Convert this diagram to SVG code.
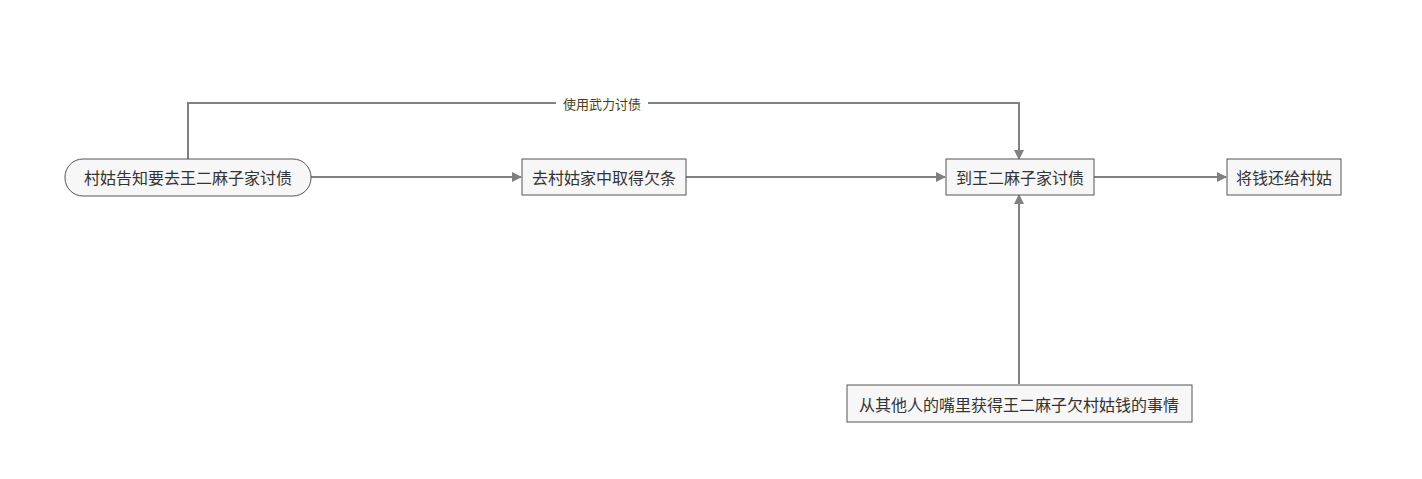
<svg xmlns="http://www.w3.org/2000/svg" width="1422" height="479" viewBox="0 0 1422 479">
<style>
.n{fill:#f7f7f7;stroke:#555;stroke-width:1}
.t{font-family:"Noto Sans CJK SC",sans-serif;font-size:16px;fill:#333;text-anchor:middle;dominant-baseline:central}
.c{fill:none;stroke:#808080;stroke-width:2}
.l{font-family:"Noto Sans CJK SC",sans-serif;font-size:13px;fill:#4a3f1a;text-anchor:middle;dominant-baseline:central}
</style>
<defs><marker id="a" markerWidth="10" markerHeight="10" refX="9" refY="5" orient="auto" markerUnits="userSpaceOnUse"><path d="M0,0L10,5L0,10z" fill="#808080"/></marker></defs>
<rect width="1422" height="479" fill="#fff"/>
<g id="connectors">
<path class="c" d="M188,159V103H1019V159" marker-end="url(#a)"/>
<rect x="556" y="94" width="92" height="18" fill="#fff"/>
<text class="l" x="602" y="103">使用武力讨债</text>
<path class="c" d="M311,177H521" marker-end="url(#a)"/>
<path class="c" d="M686,177H945" marker-end="url(#a)"/>
<path class="c" d="M1094,177H1226" marker-end="url(#a)"/>
<path class="c" d="M1019,384V195" marker-end="url(#a)"/>
</g>
<g id="n1"><rect class="n" x="65" y="159" width="246" height="37" rx="18"/><text class="t" x="188" y="177">村姑告知要去王二麻子家讨债</text></g>
<g id="n2"><rect class="n" x="522" y="159" width="164" height="36"/><text class="t" x="604" y="177">去村姑家中取得欠条</text></g>
<g id="n3"><rect class="n" x="946" y="159" width="148" height="36"/><text class="t" x="1020" y="177">到王二麻子家讨债</text></g>
<g id="n4"><rect class="n" x="1227" y="159" width="114" height="36"/><text class="t" x="1284" y="177">将钱还给村姑</text></g>
<g id="n5"><rect class="n" x="847" y="385" width="345" height="37"/><text class="t" x="1019" y="404">从其他人的嘴里获得王二麻子欠村姑钱的事情</text></g>
</svg>
